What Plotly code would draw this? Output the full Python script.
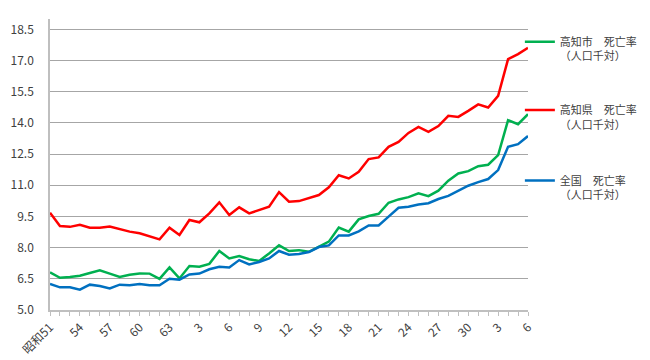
import plotly.graph_objects as go

years = list(range(1976, 2025))
tick_years = [1976, 1979, 1982, 1985, 1988, 1991, 1994, 1997, 2000, 2003,
              2006, 2009, 2012, 2015, 2018, 2021, 2024]
tick_labels = ["昭和51", "54", "57", "60", "63", "3", "6", "9", "12", "15",
               "18", "21", "24", "27", "30", "3", "6"]

kochi_city = [6.81, 6.55, 6.59, 6.65, 6.78, 6.91, 6.75, 6.59, 6.70, 6.76, 6.75, 6.50,
              7.05, 6.52, 7.12, 7.08, 7.22, 7.84,
              7.48, 7.60, 7.44, 7.36, 7.72, 8.11, 7.84, 7.88, 7.80, 8.03, 8.29,
              8.97, 8.77, 9.36, 9.52, 9.63, 10.16, 10.32, 10.43, 10.61, 10.48, 10.74, 11.22,
              11.57, 11.68, 11.92, 11.99, 12.45, 14.13, 13.94, 14.42]
kochi_pref = [9.68, 9.04, 9.00, 9.10, 8.96, 8.96, 9.02, 8.88, 8.77, 8.69, 8.56, 8.40,
              8.96, 8.61, 9.33, 9.22, 9.65, 10.18,
              9.57, 9.94, 9.65, 9.81, 9.97, 10.67, 10.21, 10.24, 10.38, 10.53, 10.90,
              11.48, 11.33, 11.65, 12.26, 12.34, 12.85, 13.09, 13.52, 13.81, 13.57, 13.85, 14.34,
              14.29, 14.58, 14.89, 14.74, 15.30, 17.07, 17.31, 17.61]
national = [6.25, 6.09, 6.09, 5.98, 6.22, 6.15, 6.04, 6.22, 6.19, 6.25, 6.19, 6.19,
            6.50, 6.46, 6.71, 6.75, 6.96, 7.08,
            7.05, 7.40, 7.19, 7.31, 7.48, 7.84, 7.66, 7.69, 7.79, 8.03, 8.11,
            8.59, 8.59, 8.78, 9.07, 9.07, 9.49, 9.92, 9.97, 10.08, 10.14, 10.34, 10.49,
            10.74, 10.98, 11.15, 11.30, 11.73, 12.85, 12.98, 13.37]

series_names = ["高知市　死亡率<br>（人口千対）", "高知県　死亡率<br>（人口千対）", "全国　死亡率<br>（人口千対）"]
series_values = [kochi_city, kochi_pref, national]
colors = ["#00B050", "#FF0000", "#0070C0"]
legend_ids = ["legend", "legend2", "legend3"]

FONT = "Noto Sans CJK JP"
TXT = "#404040"

fig = go.Figure()
for name, vals, col, lg in zip(series_names, series_values, colors, legend_ids):
    fig.add_trace(go.Scatter(x=years, y=vals, mode="lines", name=name, showlegend=True,
                             line=dict(color=col, width=2.5), legend=lg))

ticktext = [tick_labels[tick_years.index(y)] if y in tick_years else "" for y in years]

legend_common = dict(x=0.983, xanchor="left", yanchor="top", valign="top",
                     bgcolor="rgba(0,0,0,0)", borderwidth=0,
                     font=dict(family=FONT, size=11, color=TXT), itemwidth=30)

# page body has an 8px default margin, so the figure is 642x352 and sits at (8, 8)
fig.update_layout(
    width=642, height=352,
    showlegend=True,
    margin=dict(l=42, r=122, t=11, b=50, autoexpand=False),
    paper_bgcolor="white", plot_bgcolor="white",
    font=dict(family=FONT, color=TXT),
    legend=dict(y=0.969, **legend_common),
    legend2=dict(y=0.734, **legend_common),
    legend3=dict(y=0.492, **legend_common),
    xaxis=dict(range=[1976, 2024], tickmode="array", tickvals=years, ticktext=ticktext,
               tickangle=-45, ticks="outside", ticklen=4, tickcolor="#bfbfbf",
               showline=True, linecolor="#bfbfbf", linewidth=1.5, showgrid=False,
               zeroline=False, automargin=False,
               tickfont=dict(family=FONT, size=12, color=TXT)),
    yaxis=dict(range=[5, 19], tick0=5, dtick=1.5, tickformat=".1f",
               showline=True, linecolor="#bfbfbf", linewidth=1.5,
               gridcolor="#a6a6a6", gridwidth=1, zeroline=False, ticks="",
               ticklabelstandoff=12, automargin=False,
               tickfont=dict(family=FONT, size=12, color=TXT)),
)

fig.write_html("out.html")
